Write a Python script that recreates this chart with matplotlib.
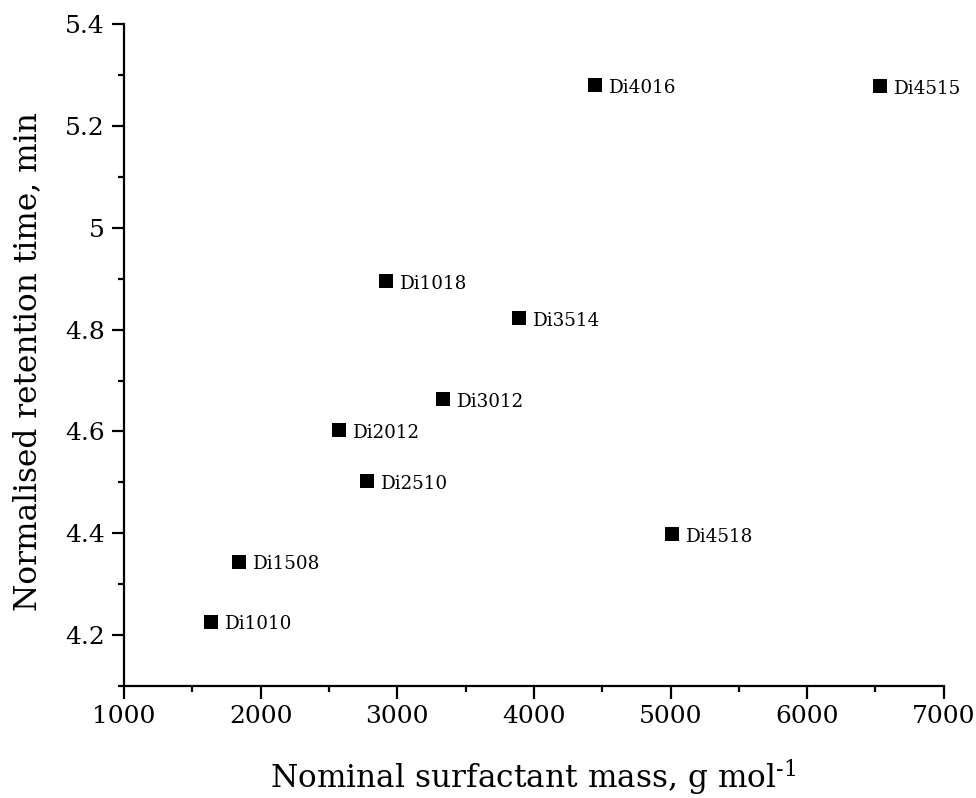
import matplotlib
matplotlib.use("Agg")
import matplotlib.pyplot as plt
from matplotlib.ticker import MultipleLocator, FuncFormatter

plt.rcParams['font.family'] = ['DejaVu Serif']
plt.rcParams['mathtext.fontset'] = 'dejavuserif'

# Surfactant samples: nominal mass (g/mol) vs normalised retention time (min)
names = ["Di1010", "Di1508", "Di2012", "Di2510", "Di3012",
         "Di1018", "Di3514", "Di4016", "Di4515", "Di4518"]
mass = [1638, 1845, 2577, 2782, 3338, 2919, 3894, 4446, 6532, 5010]
retention = [4.226, 4.344, 4.602, 4.503, 4.664, 4.895, 4.822, 5.281, 5.279, 4.398]

fig = plt.figure(figsize=(9.76, 7.98), dpi=100)
ax = fig.add_axes([0.127, 0.1407, 0.840, 0.8286])

ax.plot(mass, retention, linestyle='none', marker='s', markersize=10.5,
        color='black', markeredgewidth=0)
for n, x, y in zip(names, mass, retention):
    ax.annotate(n, (x, y), xytext=(10, -2), textcoords='offset points',
                ha='left', va='center', fontsize=13.2)

ax.set_xlim(1000, 7000)
ax.set_ylim(4.1, 5.4)
ax.xaxis.set_major_locator(MultipleLocator(1000))
ax.xaxis.set_minor_locator(MultipleLocator(500))
ax.yaxis.set_major_locator(MultipleLocator(0.2))
ax.yaxis.set_minor_locator(MultipleLocator(0.1))
ax.yaxis.set_major_formatter(FuncFormatter(lambda v, p: f"{v:g}"))
ax.xaxis.set_major_formatter(FuncFormatter(lambda v, p: f"{v:g}"))

for s in ('top', 'right'):
    ax.spines[s].set_visible(False)
for s in ('left', 'bottom'):
    ax.spines[s].set_linewidth(1.6)

ax.tick_params(which='major', direction='out', length=9, width=1.6,
               labelsize=18, pad=5)
ax.tick_params(which='minor', direction='out', length=4.5, width=1.6)

ax.set_xlabel("Nominal surfactant mass, g mol$^{\\text{-1}}$", fontsize=22.5, va='baseline')
ax.set_ylabel("Normalised retention time, min", fontsize=22.5, va='baseline')
ax.xaxis.set_label_coords(0.4994, -0.1555)
ax.yaxis.set_label_coords(-0.1073, 0.490)

fig.savefig("out.png", dpi=100)
